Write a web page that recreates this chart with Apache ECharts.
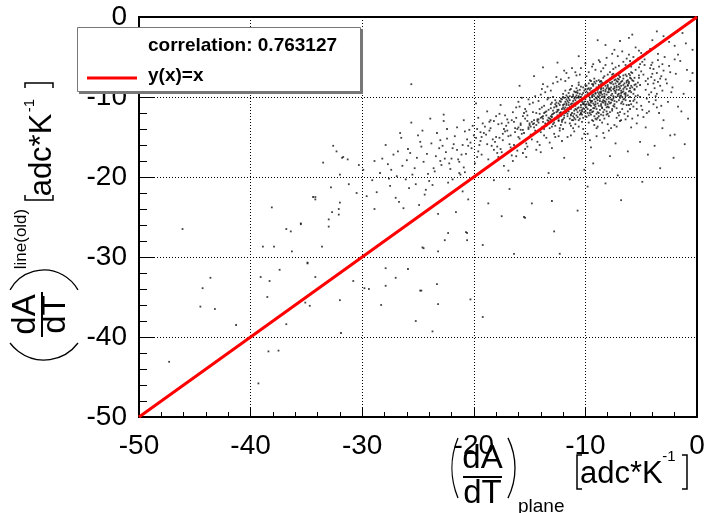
<!DOCTYPE html>
<html>
<head>
<meta charset="utf-8">
<script src="https://cdn.jsdelivr.net/npm/echarts@6/dist/echarts.min.js"></script>
<style>
html,body{margin:0;padding:0;background:#fff;}
#chart{width:707px;height:513px;}
</style>
</head>
<body>
<div id="chart"></div>
<script>
// ---- data ----
const xTicks = [-50, -40, -30, -20, -10, 0];
const yTicks = [-50, -40, -30, -20, -10, 0];
const correlationText = 'correlation: 0.763127';
const lineLabel = 'y(x)=x';
const diagLine = [[-50, -50], [0, 0]];

const corePts = [
[-10.2,-10.8],[-9.1,-9.6],[-11.4,-11.2],[-8.3,-10.1],[-12.6,-11.9],[-7.7,-9.2],[-10.9,-9.4],[-9.6,-11.7],[-13.1,-12.4],[-8.8,-8.7],
[-11.7,-10.3],[-6.9,-8.9],[-10.4,-12.1],[-9.9,-9.9],[-12.2,-10.6],[-8.1,-11.3],[-14.3,-12.8],[-7.3,-7.8],[-11.1,-12.9],[-9.4,-8.4],
[-13.7,-11.1],[-6.4,-9.7],[-10.6,-10.1],[-8.6,-9.3],[-12.9,-13.4],[-7.9,-10.6],[-11.8,-9.2],[-9.2,-12.4],[-14.8,-13.1],[-6.8,-8.1],
[-10.1,-11.5],[-8.9,-10.4],[-12.4,-11.6],[-7.1,-9.9],[-13.4,-10.3],[-9.7,-8.9],[-11.3,-13.6],[-5.9,-8.6],[-10.8,-9.8],[-8.4,-7.6],
[-12.1,-12.2],[-9.5,-11.1],[-15.2,-12.3],[-7.5,-8.4],[-11.6,-11.4],[-8.2,-9.1],[-13.9,-13.8],[-6.6,-10.3],[-10.3,-13.1],[-9.8,-10.6],
[-12.7,-10.9],[-7.8,-11.9],[-11.2,-8.6],[-8.7,-11.6],[-14.1,-11.5],[-6.2,-7.9],[-10.7,-11.9],[-9.3,-9.2],[-12.3,-13.9],[-7.4,-10.9],
[-13.2,-12.7],[-8.5,-8.2],[-11.5,-10.7],[-9.0,-12.8],[-15.6,-14.1],[-6.7,-9.4],[-10.5,-9.1],[-8.0,-10.9],[-12.8,-11.3],[-9.6,-7.9],
[-11.9,-12.6],[-7.2,-8.6],[-14.6,-12.9],[-8.9,-11.9],[-10.0,-10.3],[-5.6,-9.1],[-13.0,-10.7],[-9.1,-10.9],[-11.0,-11.7],[-7.6,-9.6],
[-12.5,-12.5],[-8.3,-7.4],[-10.9,-13.4],[-9.4,-10.0],[-14.0,-14.4],[-6.1,-8.3],[-11.4,-9.9],[-8.6,-12.2],[-13.5,-11.8],[-7.0,-7.3],
[-10.2,-9.5],[-9.8,-12.0],[-12.0,-11.0],[-7.9,-8.9],[-15.0,-13.5],[-8.8,-10.0],[-11.7,-11.9],[-6.5,-8.8],[-13.3,-13.0],[-9.2,-11.4],
[-10.6,-11.3],[-8.1,-8.0],[-12.2,-10.2],[-9.7,-10.8],[-11.3,-12.3],[-7.3,-9.5],[-14.4,-12.0],[-8.7,-9.8],[-10.3,-10.6],[-6.3,-9.0],
[-12.9,-12.1],[-9.9,-11.3],[-11.1,-10.5],[-7.7,-8.3],[-13.6,-13.3],[-8.4,-10.7],[-10.8,-8.9],[-9.3,-13.0],[-12.4,-12.9],[-6.0,-7.6],
[-11.6,-10.0],[-8.2,-11.0],[-14.9,-13.7],[-9.5,-9.4],[-10.4,-11.0],[-7.1,-7.7],[-13.1,-11.4],[-8.9,-12.6],[-11.8,-13.2],[-6.9,-9.9],
[-10.0,-9.0],[-9.0,-10.2],[-12.6,-11.1],[-7.5,-10.2],[-15.4,-12.7],[-8.6,-8.8],[-11.2,-11.1],[-5.8,-7.9],[-13.8,-12.4],[-9.7,-9.7],
[-10.7,-12.5],[-8.0,-9.4],[-12.1,-13.1],[-7.2,-8.0],[-14.2,-13.2],[-9.4,-11.9],[-11.5,-9.5],[-6.6,-8.5],[-10.1,-10.9],[-8.5,-11.4],
[-13.0,-12.2],[-9.1,-8.3],[-11.9,-11.5],[-7.8,-9.0],[-16.1,-14.0],[-8.8,-9.6],[-10.5,-12.7],[-6.4,-7.2],[-12.7,-10.4],[-9.6,-10.4],
[-11.0,-10.8],[-7.4,-11.2],[-13.7,-14.0],[-8.3,-9.9],[-10.9,-10.4],[-9.2,-7.7],[-12.3,-12.0],[-6.8,-9.2],[-14.7,-11.9],[-8.7,-10.5],
[-11.4,-12.7],[-7.0,-8.7],[-10.2,-11.4],[-9.9,-9.3],[-13.3,-12.6],[-5.7,-8.0],[-12.0,-9.6],[-8.1,-10.3],[-11.7,-11.0],[-9.3,-11.8],
[-15.8,-13.3],[-7.6,-7.5],[-10.6,-10.0],[-8.4,-12.3],[-12.8,-12.8],[-6.3,-8.2],[-11.3,-10.9],[-9.0,-9.0],[-13.9,-12.5],[-7.9,-10.0],
[-10.3,-12.2],[-8.6,-8.4],[-12.5,-11.8],[-7.3,-9.3],[-14.5,-14.2],[-9.5,-10.7],[-11.1,-9.7],[-6.7,-10.6],[-10.8,-11.6],[-8.2,-8.6]
];

const corePts2 = [
[-9.4,-10.5],[-7.6,-10.4],[-11.9,-10.1],[-8.0,-8.5],[-12.6,-12.7],[-6.5,-9.6],[-10.4,-8.7],[-9.0,-11.5],[-13.3,-11.6],[-7.4,-8.9],
[-11.3,-11.5],[-8.5,-10.6],[-10.0,-12.4],[-6.2,-8.6],[-12.4,-10.8],[-9.2,-9.9],[-13.8,-13.1],[-7.8,-7.7],[-10.7,-10.6],[-8.8,-12.0],
[-11.6,-12.1],[-6.9,-10.1],[-10.1,-9.2],[-9.7,-12.3],[-12.9,-11.7],[-7.2,-9.1],[-11.0,-9.3],[-8.3,-11.6],[-14.0,-12.6],[-5.9,-9.4],
[-10.5,-11.7],[-9.3,-8.6],[-12.2,-12.4],[-7.7,-10.7],[-13.1,-10.9],[-8.6,-9.5],[-11.4,-13.3],[-6.6,-7.7],[-10.9,-10.0],[-9.9,-10.9],
[-12.7,-13.6],[-8.1,-9.7],[-11.8,-10.6],[-7.0,-8.4],[-14.4,-13.5],[-9.5,-11.6],[-10.3,-9.7],[-6.0,-8.9],[-12.0,-11.3],[-8.9,-9.1],
[-11.2,-12.0],[-7.5,-11.1],[-13.5,-12.3],[-9.1,-10.6],[-10.6,-8.5],[-8.4,-11.9],[-12.3,-10.5],[-6.7,-8.0],[-11.5,-11.8],[-9.8,-9.5],
[-13.0,-13.7],[-7.3,-10.0],[-10.2,-10.9],[-8.7,-8.1],[-12.5,-12.3],[-6.4,-9.9],[-11.7,-9.8],[-9.4,-12.9],[-14.1,-12.1],[-7.9,-9.4],
[-10.8,-12.3],[-9.0,-8.8],[-12.1,-11.5],[-5.5,-8.4],[-11.0,-10.2],[-8.2,-10.8],[-13.6,-11.9],[-7.1,-9.7],[-10.4,-11.3],[-9.6,-9.1],
[-12.8,-12.0],[-6.8,-10.8],[-11.3,-9.0],[-8.0,-12.1],[-13.2,-13.9],[-7.6,-8.1],[-10.7,-9.5],[-9.2,-10.3],[-12.4,-13.0],[-6.1,-9.3],
[-11.1,-11.2],[-8.6,-9.0],[-14.7,-13.4],[-7.4,-10.5],[-10.0,-11.8],[-9.7,-8.3],[-12.6,-11.2],[-6.3,-7.4],[-11.6,-12.4],[-8.3,-10.0],
[-10.9,-11.1],[-9.1,-11.2],[-13.4,-12.9],[-7.7,-9.8],[-11.9,-10.9],[-8.8,-7.9],[-12.2,-13.5],[-6.6,-9.0],[-10.1,-10.1],[-9.5,-12.2],
[-13.9,-11.3],[-7.0,-10.4],[-11.4,-10.4],[-8.4,-8.9],[-12.0,-12.8],[-6.9,-7.5],[-10.6,-12.9],[-9.3,-10.8],[-14.2,-12.8],[-7.9,-11.3],
[-11.8,-11.3],[-8.7,-10.2],[-12.9,-10.0],[-5.8,-8.8],[-10.3,-11.6],[-9.9,-8.6],[-13.3,-13.2],[-7.2,-8.8],[-11.2,-10.8],[-8.1,-11.8],
[-12.5,-11.6],[-6.2,-9.8],[-10.8,-9.4],[-9.0,-12.1],[-15.1,-13.8],[-7.5,-9.0],[-11.5,-11.0],[-8.5,-10.0],[-12.7,-12.6],[-6.5,-8.3],
[-10.5,-10.4],[-9.4,-9.3],[-13.7,-12.0],[-7.8,-10.8],[-11.0,-12.6],[-8.9,-9.9],[-12.3,-11.0],[-6.0,-10.0],[-10.2,-12.6],[-9.6,-10.1],
[-14.3,-13.0],[-7.3,-8.3],[-11.7,-11.6],[-8.2,-9.3],[-12.1,-10.3],[-6.8,-9.5],[-10.9,-11.5],[-9.2,-8.1],[-13.0,-12.5],[-7.6,-11.5],
[-11.3,-12.2],[-8.6,-11.1],[-12.8,-13.2],[-5.7,-9.6],[-10.0,-9.8],[-9.8,-11.5],[-13.5,-13.6],[-7.1,-8.1],[-11.9,-12.3],[-8.3,-9.6],
[-10.7,-10.8],[-9.3,-11.4],[-12.6,-10.7],[-6.4,-8.7],[-11.1,-9.9],[-8.8,-12.4],[-14.6,-13.3],[-7.4,-9.2],[-10.4,-12.0],[-9.5,-8.9],
[-12.2,-11.9],[-6.7,-10.0],[-11.6,-10.5],[-8.0,-8.7],[-13.1,-12.8],[-7.9,-10.2],[-10.1,-11.9],[-9.1,-9.5],[-12.4,-12.6],[-6.1,-8.1],
[-11.4,-11.4],[-8.4,-10.4],[-13.8,-12.7],[-7.0,-9.1],[-10.6,-9.9],[-9.7,-11.0],[-12.0,-10.0],[-5.6,-7.6],[-11.2,-12.9],[-8.7,-9.4]
];

const corePts3 = [
[-8.5,-9.7],[-6.8,-8.6],[-10.3,-10.3],[-7.4,-7.9],[-9.6,-11.0],[-5.9,-7.7],[-11.2,-10.0],[-8.0,-11.2],[-9.0,-8.0],[-6.4,-10.4],
[-10.7,-11.4],[-7.7,-8.8],[-8.9,-10.8],[-5.4,-8.7],[-11.6,-11.7],[-7.0,-9.6],[-9.3,-9.7],[-6.1,-11.0],[-10.0,-8.5],[-8.3,-12.7],
[-7.5,-7.1],[-9.9,-12.5],[-11.4,-9.1],[-6.6,-9.3],[-8.6,-10.9],[-5.2,-7.3],[-10.5,-9.6],[-7.9,-12.4],[-9.2,-11.0],[-6.9,-7.0],
[-11.0,-12.1],[-8.1,-8.9],[-7.2,-10.6],[-9.5,-8.0],[-5.7,-10.5],[-10.8,-10.7],[-8.4,-9.2],[-6.3,-8.0],[-9.7,-13.2],[-7.6,-11.7],
[-11.8,-12.0],[-8.8,-8.5],[-6.0,-9.2],[-10.1,-10.6],[-7.3,-7.4],[-9.1,-12.7],[-5.5,-9.9],[-8.2,-10.6],[-10.6,-8.2],[-6.7,-11.5],
[-9.4,-9.8],[-7.8,-8.2],[-11.3,-11.3],[-5.8,-7.0],[-8.7,-12.9],[-10.4,-10.0],[-6.5,-10.2],[-9.8,-9.0],[-7.1,-12.0],[-8.0,-7.2],
[-10.9,-12.8],[-6.2,-8.5],[-9.0,-10.1],[-7.7,-10.3],[-11.5,-10.2],[-5.3,-8.2],[-8.5,-11.3],[-10.2,-8.8],[-6.8,-9.8],[-9.6,-12.0],
[-7.4,-8.7],[-12.1,-12.9],[-8.9,-9.4],[-5.9,-10.9],[-10.0,-11.1],[-7.0,-7.8],[-9.3,-8.4],[-6.4,-9.5],[-11.1,-12.4],[-8.3,-10.5],
[-7.9,-9.1],[-10.7,-9.2],[-6.0,-7.3],[-9.2,-13.5],[-8.6,-8.0],[-5.6,-9.0],[-10.3,-11.8],[-7.2,-11.4],[-9.7,-9.9],[-6.9,-8.3],
[-11.7,-10.8],[-8.1,-12.2],[-6.6,-10.9],[-9.5,-10.5],[-7.5,-9.9],[-10.5,-12.2],[-5.1,-8.5],[-8.8,-11.1],[-10.8,-10.1],[-7.6,-7.2]
];

const midPts = [
[-17.2,-14.3],[-4.8,-7.2],[-16.4,-13.1],[-5.3,-9.8],[-18.1,-15.6],[-4.2,-6.4],[-15.9,-15.2],[-3.9,-8.3],[-17.8,-13.4],[-5.1,-5.9],
[-19.3,-15.0],[-4.5,-10.2],[-16.7,-16.3],[-3.6,-7.0],[-18.6,-14.2],[-5.5,-6.6],[-15.5,-12.0],[-4.1,-9.4],[-20.2,-16.4],[-6.0,-5.5],
[-16.9,-14.9],[-3.4,-6.2],[-17.5,-16.9],[-5.0,-11.1],[-19.0,-13.7],[-4.7,-5.3],[-16.2,-12.6],[-6.2,-11.8],[-21.1,-17.2],[-3.8,-8.9],
[-18.4,-16.1],[-5.9,-6.9],[-15.7,-14.6],[-4.4,-7.7],[-17.0,-12.8],[-7.0,-6.1],[-19.7,-17.5],[-3.2,-7.4],[-16.0,-13.8],[-5.4,-10.7],
[-18.9,-14.7],[-4.0,-5.7],[-17.4,-15.4],[-6.5,-12.1],[-20.6,-15.3],[-3.7,-9.9],[-15.3,-15.8],[-5.7,-5.0],[-17.9,-17.0],[-4.6,-8.0],
[-16.5,-11.9],[-7.2,-12.6],[-19.5,-16.0],[-3.5,-5.4],[-18.2,-13.0],[-6.1,-7.1],[-15.1,-14.0],[-4.3,-10.6],[-21.5,-16.6],[-5.2,-6.3],
[-16.8,-15.9],[-8.0,-13.4],[-18.7,-17.8],[-3.3,-8.6],[-17.3,-14.0],[-6.4,-6.0],[-20.0,-14.8],[-4.9,-11.6],[-15.8,-13.5],[-7.5,-6.5],
[-19.9,-18.3],[-3.0,-6.7],[-16.3,-14.4],[-5.8,-12.7],[-18.0,-12.4],[-4.8,-4.8],[-17.6,-16.5],[-7.7,-13.9],[-22.0,-17.7],[-6.6,-5.6],
[-16.1,-16.7],[-3.9,-10.9],[-19.2,-13.3],[-5.6,-8.5],[-15.4,-11.5],[-8.4,-14.5],[-18.3,-15.3],[-4.5,-4.4],[-20.9,-18.8],[-6.9,-13.0],
[-17.1,-13.6],[-3.1,-9.2],[-16.6,-17.3],[-7.1,-4.9],[-19.4,-14.4],[-5.3,-12.3],[-15.2,-16.2],[-4.1,-6.0],[-21.8,-15.9],[-8.6,-6.8],
[-14.8,-15.3],[-6.3,-5.2],[-13.6,-9.4],[-9.8,-14.6],[-15.0,-10.9],[-8.3,-15.1],[-14.1,-16.0],[-5.0,-4.5],[-12.4,-14.9],[-10.5,-7.2],
[-16.0,-10.6],[-9.1,-6.6],[-13.2,-15.7],[-11.7,-7.0],[-14.5,-9.9],[-7.9,-14.2],[-12.9,-8.3],[-6.8,-12.9],[-15.6,-17.0],[-11.2,-6.4],
[-13.9,-9.0],[-9.6,-15.4],[-12.1,-15.5],[-10.9,-6.9],[-17.7,-12.1],[-8.9,-13.7],[-14.4,-16.6],[-12.6,-7.5],[-16.2,-11.3],[-7.4,-13.5],
[-11.0,-14.3],[-13.4,-8.7],[-15.3,-17.5],[-9.4,-6.2],[-18.5,-12.9],[-10.2,-14.0],[-12.2,-7.8],[-8.1,-5.1],[-14.2,-10.5],[-11.6,-15.0],
[-13.0,-16.4],[-10.0,-5.8],[-16.5,-18.0],[-9.0,-14.9],[-15.7,-10.1],[-7.6,-4.6],[-12.8,-14.6],[-11.8,-8.0],[-17.3,-18.6],[-6.0,-11.5],
[-20.4,-14.1],[-2.8,-7.8],[-21.3,-18.1],[-2.5,-6.1],[-19.6,-12.6],[-3.6,-11.3],[-22.5,-16.9],[-2.9,-5.0],[-20.8,-19.4],[-4.2,-4.0],
[-18.8,-11.8],[-5.4,-13.3],[-22.9,-18.5],[-2.2,-8.8],[-20.1,-13.6],[-6.7,-4.3],[-23.4,-17.4],[-3.4,-12.0],[-19.0,-19.0],[-8.8,-5.4],
[-17.6,-11.0],[-7.3,-15.8],[-24.1,-19.6],[-1.9,-7.1],[-21.7,-14.9],[-9.5,-16.3],[-16.9,-19.2],[-5.5,-3.8],[-23.0,-15.4],[-4.6,-13.8]
];

const midPts2 = [
[-16.3,-13.9],[-5.2,-7.6],[-17.7,-15.1],[-4.6,-9.1],[-15.6,-12.4],[-5.9,-6.2],[-18.8,-15.9],[-4.4,-8.4],[-16.9,-13.2],[-6.3,-11.0],
[-19.6,-16.8],[-4.0,-7.1],[-15.0,-13.3],[-5.6,-10.3],[-17.4,-14.6],[-6.7,-6.7],[-20.3,-15.7],[-3.8,-7.9],[-16.0,-15.0],[-5.0,-6.8],
[-18.5,-13.9],[-6.0,-10.5],[-15.8,-14.1],[-4.7,-6.0],[-17.9,-16.2],[-5.4,-11.5],[-19.1,-14.5],[-3.5,-8.1],[-16.6,-12.9],[-6.6,-7.3],
[-18.2,-16.6],[-4.3,-9.7],[-15.2,-13.0],[-7.3,-6.3],[-20.7,-17.1],[-3.9,-6.5],[-17.0,-14.2],[-5.7,-11.2],[-16.4,-16.0],[-4.9,-5.6],
[-19.8,-15.1],[-6.2,-12.4],[-15.5,-14.5],[-4.1,-7.5],[-18.0,-15.0],[-7.6,-5.8],[-17.2,-12.3],[-5.1,-10.0],[-21.0,-16.0],[-3.6,-9.6],
[-14.9,-14.7],[-6.9,-11.9],[-16.7,-14.8],[-5.3,-5.2],[-19.3,-17.2],[-4.5,-12.0],[-15.3,-11.8],[-7.8,-6.9],[-18.6,-13.1],[-3.3,-7.7],
[-14.6,-13.8],[-8.2,-6.0],[-13.7,-14.8],[-9.3,-5.9],[-14.0,-9.7],[-10.4,-6.4],[-12.7,-15.0],[-11.5,-7.6],[-15.1,-10.3],[-8.5,-13.2],
[-13.5,-15.1],[-10.8,-7.3],[-14.7,-10.7],[-9.0,-13.9],[-12.5,-8.1],[-7.2,-13.7],[-13.1,-9.2],[-10.1,-14.6],[-15.9,-11.2],[-11.9,-6.7],
[-14.3,-15.6],[-9.7,-6.9],[-12.3,-14.2],[-8.7,-5.6],[-16.2,-17.4],[-10.6,-13.7],[-13.8,-8.4],[-11.3,-14.8],[-17.5,-13.3],[-7.0,-12.3],
[-14.0,-16.9],[-9.9,-7.4],[-12.0,-14.0],[-8.4,-6.4],[-15.4,-16.5],[-10.3,-15.2],[-13.3,-10.1],[-11.1,-13.9],[-17.8,-17.5],[-6.4,-12.8],
[-21.4,-17.8],[-3.1,-5.9],[-20.5,-16.1],[-2.7,-8.3],[-22.2,-18.3],[-3.7,-10.4],[-19.4,-15.5],[-2.4,-6.9],[-21.9,-16.4],[-4.8,-12.5],
[-23.6,-18.9],[-2.0,-5.3],[-20.8,-14.3],[-3.2,-11.1],[-22.6,-17.7],[-5.2,-4.2],[-24.5,-18.1],[-2.3,-9.4],[-19.7,-14.0],[-6.1,-4.7],
[-23.1,-16.4],[-4.3,-11.8],[-21.2,-19.7],[-3.5,-4.6],[-25.1,-17.6],[-5.9,-13.8],[-18.4,-18.4],[-7.4,-4.1],[-22.4,-15.2],[-3.0,-12.9],
[-24.2,-17.1],[-26.4,-18.6],[-22.8,-16.1],[-25.5,-19.7],[-23.3,-14.5],[-27.2,-17.2],[-24.0,-20.5],[-21.5,-13.8],[-26.9,-19.9],[-23.8,-15.8],
[-25.9,-16.5],[-22.1,-19.0],[-27.7,-18.4],[-24.6,-14.2],[-21.9,-20.3],[-26.0,-17.9],[-23.5,-19.3],[-28.4,-19.5],[-22.4,-14.0],[-25.2,-20.9],
[-20.9,-12.9],[-24.8,-15.6],[-27.5,-21.1],[-23.0,-18.0],[-26.6,-14.5],[-21.3,-19.5],[-25.7,-17.0],[-22.7,-12.2],[-28.9,-18.0],[-24.3,-21.6]
];

const outerPts = [
[-25.3,-18.9],[-1.5,-5.5],[-26.1,-20.3],[-1.2,-9.6],[-24.7,-16.2],[-2.0,-3.6],[-27.4,-19.1],[-3.1,-13.9],[-25.8,-21.4],[-1.7,-4.7],
[-28.2,-17.7],[-6.2,-16.8],[-23.7,-21.0],[-0.9,-6.6],[-26.8,-16.8],[-4.0,-2.9],[-24.4,-22.2],[-7.8,-17.4],[-29.1,-20.4],[-2.6,-10.6],
[-22.3,-20.7],[-10.6,-4.9],[-27.0,-22.6],[-1.0,-3.3],[-25.0,-14.8],[-5.1,-15.6],[-30.3,-18.5],[-3.0,-2.4],[-23.9,-12.7],[-11.9,-17.6],
[-28.7,-21.9],[-6.9,-3.0],[-21.0,-21.8],[-0.6,-8.0],[-26.5,-15.1],[-9.3,-18.3],[-24.9,-23.5],[-2.4,-14.8],[-31.2,-20.9],[-12.5,-5.7],
[-22.7,-13.0],[-8.2,-3.5],[-27.9,-16.0],[-4.4,-17.2],[-20.5,-22.8],[-13.8,-6.3],[-29.6,-22.4],[-1.4,-11.8],[-25.6,-13.2],[-10.1,-19.1],
[-18.2,-20.4],[-14.6,-7.4],[-32.0,-19.7],[-5.8,-2.2],[-26.3,-23.9],[-3.8,-16.1],[-19.8,-10.8],[-15.9,-8.6],[-23.2,-24.6],[-0.4,-4.1],
[-2.5,-3.1],[-1.3,-2.0],[-3.6,-1.8],[-6.1,-2.6],[-8.9,-2.9],[-0.8,-12.7],[-1.1,-15.9],[-3.3,-18.9],[-2.1,-17.6],[-7.1,-19.8],
[-9.8,-21.2],[-4.9,-20.6],[-11.4,-20.3],[-13.3,-19.5],[-16.8,-21.5],[-18.7,-23.3],[-21.6,-24.4],[-17.5,-24.9],[-10.7,-24.2],[-8.2,-20.8]
];

const outlierPts = [
[-46.1,-26.5],[-44.3,-33.9],[-44.5,-36.2],[-43.2,-36.5],[-43.6,-32.6],[-47.3,-43.1],[-41.3,-38.5],[-39.3,-45.8],[-38.4,-41.8],[-37.5,-41.7],
[-36.8,-38.4],[-31.9,-39.5],[-32.0,-35.4],[-34.7,-36.1],[-35.1,-35.7],[-38.5,-35.0],[-38.3,-33.0],[-37.4,-31.6],[-39.1,-32.5],[-38.1,-23.8],
[-38.9,-28.7],[-37.9,-28.7],[-36.3,-29.3],[-36.8,-26.5],[-36.4,-26.8],[-35.5,-25.9],[-33.6,-28.7],[-33.0,-25.3],[-32.1,-24.7],[-34.9,-30.7],
[-34.2,-32.5],[-30.8,-33.0],[-29.8,-33.9],[-29.4,-34.0],[-27.9,-33.6],[-28.3,-36.0],[-25.9,-31.5],[-27.0,-32.6],[-25.2,-38.0],[-23.7,-39.3],
[-24.7,-34.2],[-23.2,-35.9],[-24.5,-28.9],[-32.1,-24.0],[-23.3,-33.4],[-19.2,-37.5],[-20.3,-35.3],[-16.4,-29.6],[-12.3,-29.6],[-19.2,-28.5],
[-23.2,-29.3],[-24.6,-28.8],[-20.6,-27.9],[-22.6,-27.9],[-15.4,-25.1],[-14.8,-23.3],[-6.8,-22.9],[-13.0,-23.0],[-24.8,-34.2],[-22.3,-27.0],
[-20.7,-26.9],[-2.0,-14.7],[-1.7,-11.2],[-0.4,-7.0],[-12.8,-26.8],[-25.6,-8.4],[-33.5,-18.2],[-31.8,-17.6],[-29.9,-19.1],[-34.2,-22.8],
[-30.5,-22.0],[-27.6,-20.2],[-32.7,-24.4],[-28.9,-24.0],[-26.7,-23.1],[-32.6,-16.1],[-32.3,-16.8],[-31.3,-17.8],[-34.2,-22.5],[-32.8,-21.3],
[-32.0,-23.2],[-34.4,-22.5],[-35.5,-25.8],[-33.0,-26.2],[-34.9,-30.8],[-27.9,-31.4],[-15.5,-25.0],[-20.6,-27.0],[-31.7,-17.5]
];

// ---- chart ----
const FONT = '"Liberation Sans", Arial, Helvetica, sans-serif';
const chart = echarts.init(document.getElementById('chart'));

function txt(text, x, y, size, opts) {
  opts = opts || {};
  return {
    type: 'text', x: x, y: y, rotation: opts.rot || 0, z: 100,
    style: {
      text: text, font: (opts.bold ? 'bold ' : '') + size + 'px ' + FONT,
      fill: '#000', align: opts.align || 'center', verticalAlign: 'middle'
    }
  };
}
function arc(cx, cy, r, a0, a1) {
  return { type: 'arc', z: 100, shape: {cx: cx, cy: cy, r: r, startAngle: a0, endAngle: a1, clockwise: true},
           style: {stroke: '#000', lineWidth: 1.3, fill: null} };
}
function seg(pts, w) {
  return { type: 'polyline', z: 100, shape: {points: pts}, style: {stroke: '#000', lineWidth: w || 1.3, fill: null} };
}

const R90 = Math.PI / 2;
const graphics = [
  // legend box
  { type: 'rect', z: 99, shape: {x: 79, y: 29, width: 284, height: 65}, style: {fill: '#777'} },
  { type: 'rect', z: 99, shape: {x: 77.5, y: 27.5, width: 283, height: 64}, style: {fill: '#fff', stroke: '#777', lineWidth: 1} },
  txt(correlationText, 148, 46, 19, {bold: true, align: 'left'}),
  { type: 'line', z: 100, shape: {x1: 87, y1: 78, x2: 137, y2: 78}, style: {stroke: '#ff0000', lineWidth: 3} },
  txt(lineLabel, 148, 76, 19, {bold: true, align: 'left'}),

  // x-axis title
  arc(452 + 78, 468, 78, Math.PI - 0.395, Math.PI + 0.395),
  txt('dA', 482.5, 459, 33),
  seg([[463, 477], [502, 477]], 2),
  txt('dT', 482.5, 494, 33),
  arc(515 - 67.8, 468, 67.8, -0.46, 0.46),
  txt('plane', 518, 507, 19, {align: 'left'}),
  seg([[582, 455], [577, 455], [577, 489], [582, 489]], 1.5),
  txt('adc*K', 580, 474, 31, {align: 'left'}),
  txt('-1', 669, 457, 15),
  seg([[682, 455], [687, 455], [687, 489], [682, 489]], 1.5),

  // y-axis title (rotated)
  arc(44, 360 - 42.5, 42.5, R90 - 0.927, R90 + 0.927),
  txt('dA', 26, 314.5, 33, {rot: R90}),
  seg([[42, 292], [42, 337]], 2),
  txt('dT', 56, 314.5, 33, {rot: R90}),
  arc(44, 270 + 38.9, 38.9, -R90 - 1.06, -R90 + 1.06),
  txt('line(old)', 21, 239, 17, {rot: R90}),
  seg([[25, 195], [25, 200], [53, 200], [53, 195]], 1.5),
  txt('adc*K', 42, 155, 31, {rot: R90}),
  txt('-1', 30, 105.5, 15, {rot: R90}),
  seg([[25, 88], [25, 83], [53, 83], [53, 88]], 1.5)
];

const labelStyle = {fontSize: 28, color: '#000', fontFamily: FONT, showMinLabel: true, showMaxLabel: true, hideOverlap: false};

chart.setOption({
  animation: false,
  grid: {left: 139, top: 17, right: 10, bottom: 96, containLabel: false, outerBoundsMode: 'none',
         show: true, borderColor: '#000', borderWidth: 2},
  xAxis: {
    type: 'value', position: 'bottom', min: xTicks[0], max: xTicks[xTicks.length - 1], interval: 10,
    axisLine: {show: true, onZero: false, lineStyle: {color: '#000', width: 2}},
    splitLine: {show: true, lineStyle: {color: '#000', width: 1, type: [1, 2]}},
    axisTick: {show: true, inside: true, length: 10, lineStyle: {color: '#000', width: 1}},
    minorTick: {show: true, splitNumber: 5, length: 5, lineStyle: {color: '#000', width: 1}},
    minorSplitLine: {show: false},
    axisLabel: Object.assign({}, labelStyle, {margin: 15})
  },
  yAxis: {
    type: 'value', position: 'left', min: yTicks[0], max: yTicks[yTicks.length - 1], interval: 10,
    axisLine: {show: true, onZero: false, lineStyle: {color: '#000', width: 2}},
    splitLine: {show: true, lineStyle: {color: '#000', width: 1, type: [1, 2]}},
    axisTick: {show: true, inside: true, length: 16, lineStyle: {color: '#000', width: 1}},
    minorTick: {show: true, splitNumber: 5, length: 8, lineStyle: {color: '#000', width: 1}},
    minorSplitLine: {show: false},
    axisLabel: Object.assign({}, labelStyle, {margin: 12})
  },
  series: [
    { type: 'scatter', data: corePts.concat(corePts2, corePts3, midPts, midPts2, outerPts, outlierPts),
      symbol: 'rect', symbolSize: 1.8, itemStyle: {color: '#111', opacity: 0.8} },
    { type: 'line', data: diagLine, symbol: 'none', lineStyle: {color: '#ff0000', width: 3} }
  ],
  graphic: graphics
});
</script>
</body>
</html>
